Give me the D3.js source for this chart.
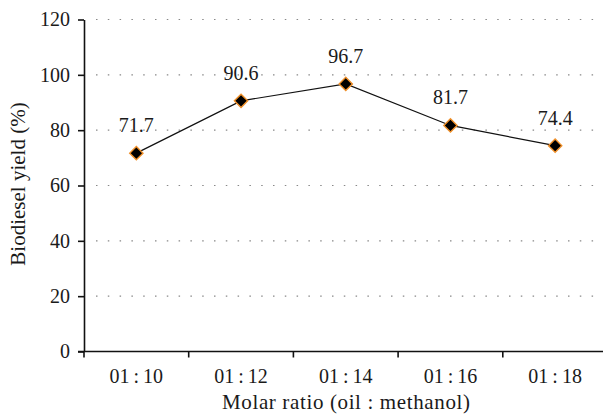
<!DOCTYPE html>
<html>
<head>
<meta charset="utf-8">
<script src="https://cdn.jsdelivr.net/npm/d3@7"></script>
<style>
  html, body { margin: 0; padding: 0; background: #fff; }
  svg text { font-family: "Liberation Serif", "Times New Roman", serif; fill: #1a1a1a; }
</style>
</head>
<body>
<svg id="chart" width="603" height="414"></svg>
<script>
// Molar ratio categories and biodiesel yield (%)
const ratios = ["01\u2009:\u200910", "01\u2009:\u200912", "01\u2009:\u200914", "01\u2009:\u200916", "01\u2009:\u200918"];
const yields = [71.7, 90.6, 96.7, 81.7, 74.4];
const yTicks = [0, 20, 40, 60, 80, 100, 120];
const gridTicks = [20, 40, 60, 80, 100, 120];

const svg = d3.select("#chart");
const plotLeft = 84, plotRight = 607.5, plotTop = 19.5, plotBottom = 351.5;

const x = d3.scaleBand().domain(ratios).range([plotLeft, plotRight]).padding(0);
const y = d3.scaleLinear().domain([0, 120]).range([plotBottom, plotTop]);

// Dotted horizontal gridlines
svg.append("g").selectAll("line").data(gridTicks).join("line")
  .attr("x1", plotLeft + 12).attr("x2", 600)
  .attr("y1", d => y(d)).attr("y2", d => y(d))
  .attr("stroke", "#888").attr("stroke-width", 1.2)
  .attr("stroke-dasharray", "1.5,10.3");

// Y axis
const yAxis = svg.append("g").attr("transform", `translate(${plotLeft},0)`)
  .call(d3.axisLeft(y).tickValues(yTicks).tickSize(6).tickSizeOuter(0).tickPadding(8));
yAxis.select(".domain").attr("stroke", "#111").attr("stroke-width", 1.6);
yAxis.selectAll(".tick line").attr("stroke", "#111").attr("stroke-width", 1.6);
yAxis.selectAll("text").attr("font-size", 20).style("fill", "#1a1a1a");

// X axis with ticks between categories
const xAxis = svg.append("g").attr("transform", `translate(0,${plotBottom})`);
xAxis.append("line").attr("x1", plotLeft - 6).attr("x2", 603)
  .attr("stroke", "#111").attr("stroke-width", 1.6);
const bounds = ratios.map(r => x(r));
xAxis.selectAll(".tk").data(bounds).join("line").attr("class", "tk")
  .attr("x1", d => d).attr("x2", d => d).attr("y1", 0).attr("y2", 6)
  .attr("stroke", "#111").attr("stroke-width", 1.6);
xAxis.selectAll(".lbl").data(ratios).join("text").attr("class", "lbl")
  .attr("x", d => x(d) + x.bandwidth() / 2).attr("y", 31)
  .attr("text-anchor", "middle").attr("font-size", 20).text(d => d);

// Series line
const cx = d => x(d) + x.bandwidth() / 2;
const pts = ratios.map((r, i) => [cx(r), y(yields[i])]);
svg.append("path").attr("d", d3.line()(pts))
  .attr("fill", "none").attr("stroke", "#111").attr("stroke-width", 1.2);

// Diamond markers
const diamond = d3.symbol().type(d3.symbolSquare).size(88);
svg.append("g").selectAll("path").data(pts).join("path")
  .attr("d", diamond())
  .attr("transform", d => `translate(${d[0]},${d[1]}) rotate(45)`)
  .attr("fill", "#000").attr("stroke", "#f0902a").attr("stroke-width", 1.4);

// Value labels
svg.append("g").selectAll("text").data(pts).join("text")
  .attr("x", d => d[0]).attr("y", d => d[1] - 21)
  .attr("text-anchor", "middle").attr("font-size", 20)
  .text((d, i) => yields[i].toFixed(1));

// Axis titles
svg.append("text").attr("transform", "translate(25,184) rotate(-90)")
  .attr("text-anchor", "middle").attr("font-size", 21).text("Biodiesel yield (%)");
svg.append("text").attr("x", 346).attr("y", 409)
  .attr("text-anchor", "middle").attr("font-size", 21)
  .attr("textLength", 248).attr("lengthAdjust", "spacing")
  .text("Molar ratio (oil : methanol)");
</script>
</body>
</html>
